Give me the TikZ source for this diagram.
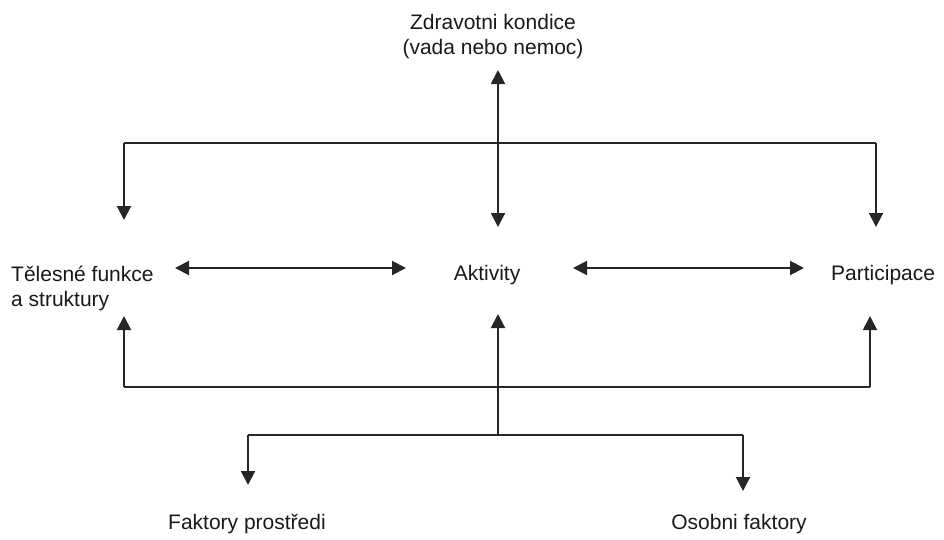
\documentclass[tikz,border=0pt]{standalone}
\usepackage{fontspec}
\setmainfont{Liberation Sans}
\usetikzlibrary{arrows.meta}
\begin{document}
\begin{tikzpicture}[x=1pt,y=-1pt,
  lbl/.style={inner sep=0pt,font=\fontsize{21}{25}\selectfont,text=black!90},
  conn/.style={line width=2pt,draw=black!85,arrows={-Triangle[width=14pt,length=14pt]}},
  conn2/.style={line width=2pt,draw=black!85,arrows={Triangle[width=14pt,length=14pt]-Triangle[width=14pt,length=14pt]}},
  plain/.style={line width=2pt,draw=black!85}]
\useasboundingbox (0,0) rectangle (944,539);
% texts
\node[lbl,align=center] (zk) at (493,37) {Zdravotni kondice\\(vada nebo nemoc)};
\node[lbl,align=left,anchor=west] (tf) at (11,288) {Tělesné funkce\\a struktury};
\node[lbl] (akt) at (487,275) {Aktivity};
\node[lbl,anchor=west] (par) at (831,275) {Participace};
\node[lbl] (fp) at (247,524) {Faktory prostředi};
\node[lbl] (of) at (739,524) {Osobni faktory};
% coordinates
\coordinate (zkTip) at (498,70);
\coordinate (aTop) at (498,227);
\coordinate (jTop) at (498,143);
\coordinate (lTopC) at (124,143);
\coordinate (rTopC) at (876,143);
\coordinate (lTopTip) at (124,220);
\coordinate (rTopTip) at (876,227);
\coordinate (tfR) at (175,268);
\coordinate (aL) at (406,268);
\coordinate (aR) at (573,268);
\coordinate (pL) at (804,268);
\coordinate (lBotTip) at (124,316);
\coordinate (lBotC) at (124,387);
\coordinate (rBotTip) at (870,316);
\coordinate (rBotC) at (870,387);
\coordinate (aBotTip) at (498,314);
\coordinate (jBot) at (498,435);
\coordinate (fpC) at (248,435);
\coordinate (ofC) at (743,435);
\coordinate (fpTip) at (248,485);
\coordinate (ofTip) at (743,491);
% connectors
\draw[conn2] (zkTip) -- (aTop);
\draw[plain] (lTopC) -- (rTopC);
\draw[conn] (lTopC) -- (lTopTip);
\draw[conn] (rTopC) -- (rTopTip);
\draw[conn2] (tfR) -- (aL);
\draw[conn2] (aR) -- (pL);
\draw[conn] (lBotC) -- (lBotTip);
\draw[conn] (rBotC) -- (rBotTip);
\draw[plain] (lBotC) -- (rBotC);
\draw[conn] (jBot) -- (aBotTip);
\draw[plain] (fpC) -- (ofC);
\draw[conn] (fpC) -- (fpTip);
\draw[conn] (ofC) -- (ofTip);
\end{tikzpicture}
\end{document}
